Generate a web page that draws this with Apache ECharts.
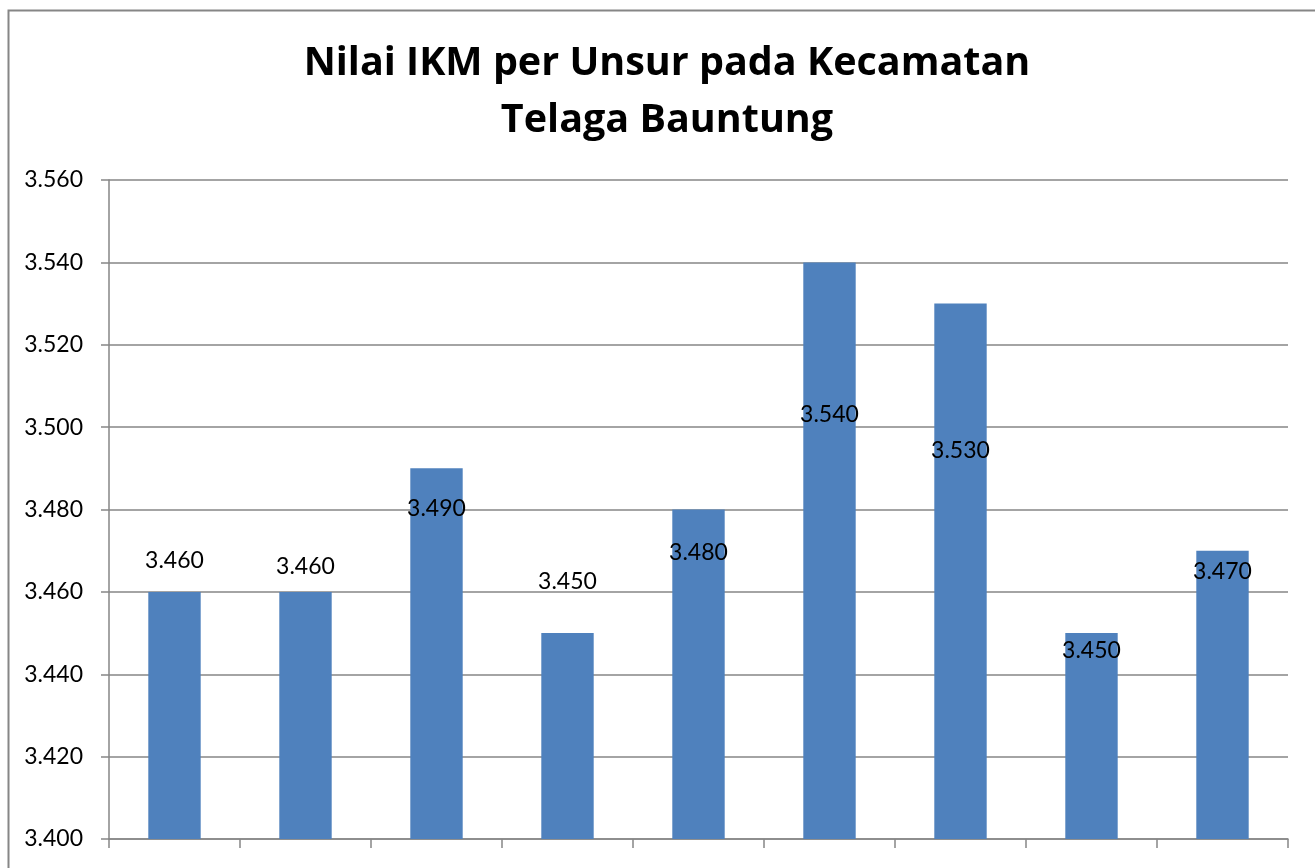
<!DOCTYPE html>
<html>
<head>
<meta charset="utf-8">
<title>Nilai IKM per Unsur pada Kecamatan Telaga Bauntung</title>
<script src="https://cdn.jsdelivr.net/npm/echarts@6/dist/echarts.min.js"></script>
<style>
    html, body { margin: 0; padding: 0; background: #fff; }
    #chart { width: 1315px; height: 868px; }
</style>
</head>
<body>
<div id="chart"></div>
<script>
// 数据：九个单元（U1..U9）
var categories = ['U1', 'U2', 'U3', 'U4', 'U5', 'U6', 'U7', 'U8', 'U9'];
var ikmValues  = [3.460, 3.460, 3.490, 3.450, 3.480, 3.540, 3.530, 3.450, 3.470];
// y 轴刻度
var yTicks     = [3.400, 3.420, 3.440, 3.460, 3.480, 3.500, 3.520, 3.540, 3.560];
// 标签相对柱顶的上下偏移（原图中标签位置不统一）
var labelShift = [-31, -25, 40, -51, 43, 152, 147, 18, 21];

var fontName = 'Lato, "Liberation Sans", sans-serif';

// 组装柱子数据
var barData = [];
for ( var i = 0; i < ikmValues.length; i++ ){
    barData.push({
        value: ikmValues[ i ],
        label: { offset: [ 0, labelShift[ i ] ] }
    });
}

var myChart = echarts.init( document.getElementById('chart') );
var option = {
    backgroundColor: '#fff',
    animation: false,
    title: {
        text: 'Nilai IKM per Unsur pada Kecamatan\nTelaga Bauntung',
        left: 662,
        top: 30,
        textAlign: 'center',
        textStyle: {
            fontFamily: '"Open Sans", Lato, sans-serif',
            fontWeight: 'bold',
            fontSize: 39.5,
            lineHeight: 57,
            color: '#000'
        }
    },
    // 外框
    graphic: [{
        type: 'rect',
        left: 6,
        top: 8,
        shape: { width: 1400, height: 900 },
        style: { fill: 'none', stroke: '#868686', lineWidth: 2 },
        silent: true
    }],
    grid: {
        left: 109,
        right: 27,
        top: 180,
        bottom: 29
    },
    xAxis: {
        type: 'category',
        data: categories,
        axisLine: { lineStyle: { color: '#868686', width: 1.5 } },
        axisTick: { show: true, length: 9, lineStyle: { color: '#868686', width: 1.5 } },
        axisLabel: { show: false }
    },
    yAxis: {
        type: 'value',
        min: yTicks[0],
        max: yTicks[ yTicks.length - 1 ],
        interval: 0.02,
        axisLine: { show: true, lineStyle: { color: '#868686', width: 1.5 } },
        axisTick: { show: true, length: 8, lineStyle: { color: '#868686', width: 1.5 } },
        splitLine: { lineStyle: { color: '#868686', width: 1.5 } },
        axisLabel: {
            margin: 26,
            color: '#000',
            fontFamily: fontName,
            fontSize: 23,
            formatter: function ( v ) { return v.toFixed(3); }
        }
    },
    series: [{
        name: 'Nilai IKM',
        type: 'bar',
        barWidth: '40%',
        data: barData,
        itemStyle: { color: '#4F81BD' },
        label: {
            show: true,
            position: [ '50%', 0 ],
            align: 'center',
            verticalAlign: 'middle',
            color: '#000',
            fontFamily: fontName,
            fontSize: 23,
            formatter: function ( p ) { return p.value.toFixed(3); }
        }
    }]
};
myChart.setOption(option);
</script>
</body>
</html>
